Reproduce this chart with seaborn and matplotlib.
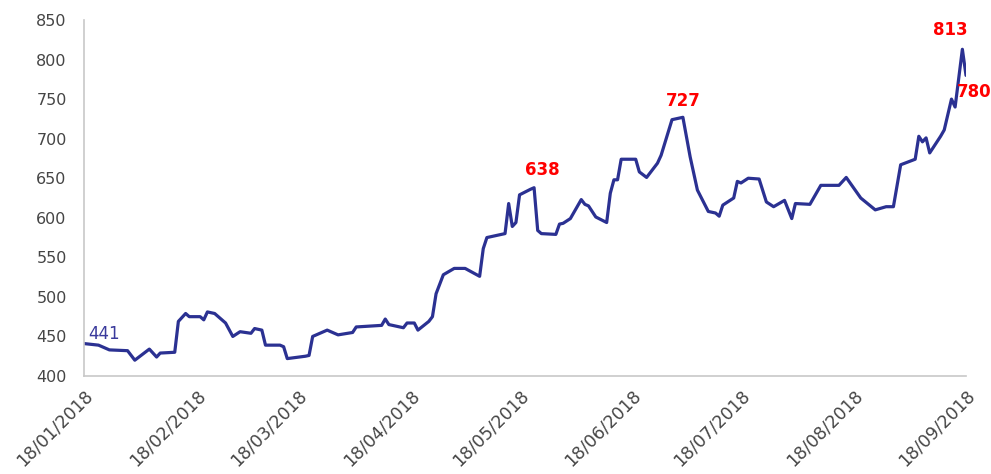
import pandas as pd
import numpy as np
import seaborn as sns
import matplotlib.pyplot as plt
import matplotlib.dates as mdates

# Price series (vertices)
DATES = [
    '2018-01-18', '2018-01-22', '2018-01-25', '2018-01-30', '2018-02-01', '2018-02-05',
    '2018-02-07', '2018-02-08', '2018-02-12', '2018-02-13', '2018-02-15', '2018-02-16',
    '2018-02-19', '2018-02-20', '2018-02-21', '2018-02-23', '2018-02-26', '2018-02-28',
    '2018-03-02', '2018-03-05', '2018-03-06', '2018-03-08', '2018-03-09', '2018-03-13',
    '2018-03-14', '2018-03-15', '2018-03-20', '2018-03-21', '2018-03-22', '2018-03-26',
    '2018-03-29', '2018-04-02', '2018-04-03', '2018-04-10', '2018-04-11', '2018-04-12',
    '2018-04-16', '2018-04-17', '2018-04-19', '2018-04-20', '2018-04-23', '2018-04-24',
    '2018-04-25', '2018-04-27', '2018-04-30', '2018-05-03', '2018-05-07', '2018-05-08',
    '2018-05-09', '2018-05-14', '2018-05-15', '2018-05-16', '2018-05-17', '2018-05-18',
    '2018-05-21', '2018-05-22', '2018-05-23', '2018-05-24', '2018-05-28', '2018-05-29',
    '2018-05-30', '2018-06-01', '2018-06-04', '2018-06-05', '2018-06-06', '2018-06-08',
    '2018-06-11', '2018-06-12', '2018-06-13', '2018-06-14', '2018-06-15', '2018-06-19',
    '2018-06-20', '2018-06-22', '2018-06-25', '2018-06-26', '2018-06-29', '2018-07-02',
    '2018-07-04', '2018-07-06', '2018-07-09', '2018-07-11', '2018-07-12', '2018-07-13',
    '2018-07-16', '2018-07-17', '2018-07-18', '2018-07-20', '2018-07-23', '2018-07-25',
    '2018-07-27', '2018-07-30', '2018-08-01', '2018-08-02', '2018-08-06', '2018-08-09',
    '2018-08-14', '2018-08-16', '2018-08-20', '2018-08-24', '2018-08-27', '2018-08-29',
    '2018-08-31', '2018-09-04', '2018-09-05', '2018-09-06', '2018-09-07', '2018-09-08',
    '2018-09-11', '2018-09-12', '2018-09-14', '2018-09-15', '2018-09-17', '2018-09-18',
]
PRICES = [
    441, 439, 433, 432, 420, 434,
    424, 429, 430, 469, 479, 475,
    475, 471, 481, 479, 467, 450,
    456, 454, 460, 458, 439, 439,
    437, 422, 425, 426, 450, 458,
    452, 455, 462, 464, 472, 465,
    461, 467, 467, 458, 469, 475,
    504, 528, 536, 536, 526, 561,
    575, 580, 618, 589, 594, 629,
    636, 638, 584, 580, 579, 592,
    593, 599, 623, 617, 615, 601,
    594, 631, 648, 648, 674, 674,
    658, 651, 669, 679, 724, 727,
    677, 635, 608, 606, 602, 616,
    625, 646, 644, 650, 649, 620,
    614, 622, 599, 618, 617, 641,
    641, 651, 625, 610, 614, 614,
    667, 674, 703, 696, 701, 682,
    703, 711, 750, 740, 813, 780,
]

# Labelled points: date, colour, weight, offset in pixels
LABEL_DATES = ['2018-01-18', '2018-05-22', '2018-07-02', '2018-09-17', '2018-09-18']
LABEL_COLORS = ['#3a3a9c', '#ff0000', '#ff0000', '#ff0000', '#ff0000']
LABEL_WEIGHTS = ['normal', 'bold', 'bold', 'bold', 'bold']
LABEL_OFFSETS = [(4, 10), (8, 18), (0, 16), (-12, 19), (8, -17)]
LABEL_HA = ['left', 'center', 'center', 'center', 'center']

TICK_DATES = ['2018-01-18', '2018-02-18', '2018-03-18', '2018-04-18', '2018-05-18',
              '2018-06-18', '2018-07-18', '2018-08-18', '2018-09-18']

df = pd.DataFrame({'date': pd.to_datetime(DATES), 'price': PRICES})

sns.set_style('white')
plt.rcParams['font.family'] = ['DejaVu Sans']

fig = plt.figure(figsize=(9.91, 4.74), dpi=100)
ax = fig.add_axes([84 / 991, 1 - 376 / 474, 882 / 991, 356 / 474])

sns.lineplot(data=df, x='date', y='price', ax=ax, color='#2b3192', linewidth=2.3)

# value labels
price_by_date = dict(zip(df['date'], df['price']))
for d, c, w, off, ha in zip(LABEL_DATES, LABEL_COLORS, LABEL_WEIGHTS, LABEL_OFFSETS, LABEL_HA):
    dt = pd.Timestamp(d)
    v = price_by_date[dt]
    ax.annotate(str(v), xy=(dt, v), xytext=off, textcoords='offset pixels',
                ha=ha, va='center', color=c, fontsize=12, fontweight=w)

ticks = pd.to_datetime(TICK_DATES)
ax.set_xlim(ticks[0], ticks[-1])
ax.set_xticks(ticks)
ax.xaxis.set_major_formatter(mdates.DateFormatter('%d/%m/%Y'))
ax.set_ylim(400, 850)
ax.set_yticks(np.arange(400, 851, 50))

ax.set_xlabel('')
ax.set_ylabel('')
for s in ['top', 'right']:
    ax.spines[s].set_visible(False)
for s in ['left', 'bottom']:
    ax.spines[s].set_color('#c8c8c8')
    ax.spines[s].set_linewidth(1.2)

ax.tick_params(axis='both', which='both', direction='out', color='#c8c8c8',
               length=4.5, width=1.2, labelcolor='#454545')
ax.tick_params(axis='y', labelsize=11.5, pad=8)
ax.tick_params(axis='x', labelsize=12.5, pad=3)
for lbl in ax.get_xticklabels():
    lbl.set_rotation(45)
    lbl.set_ha('right')
    lbl.set_rotation_mode('anchor')

fig.savefig('out.png', dpi=100)
